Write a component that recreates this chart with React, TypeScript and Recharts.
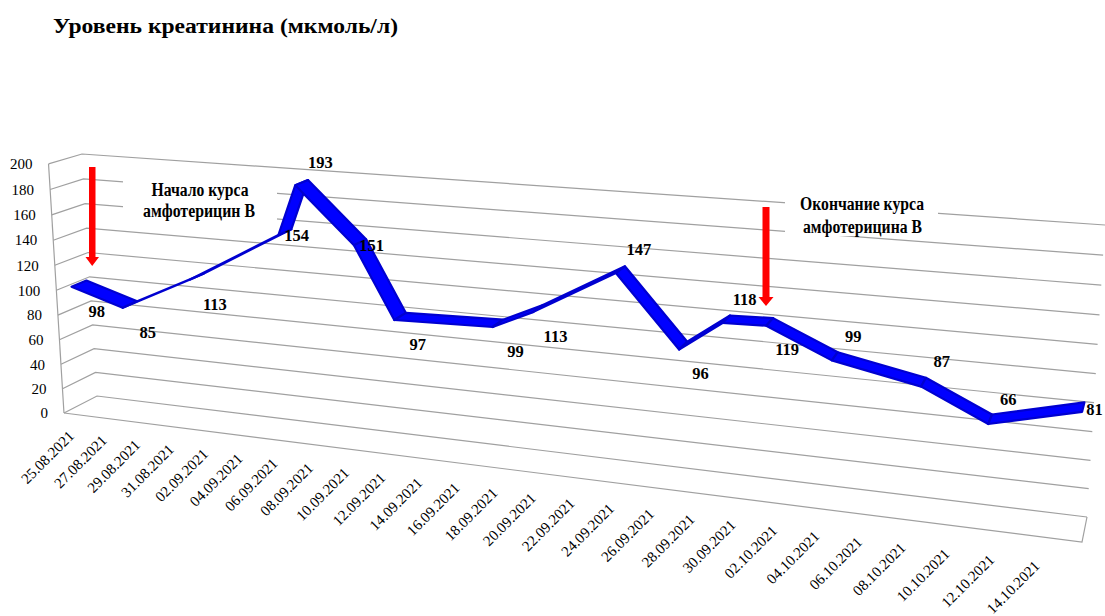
import React from "react";
import { CartesianGrid, Line, LineChart, XAxis, YAxis } from "recharts";

// dates printed under the floor (every second day)
const tickDates = [
  "25.08.2021", "27.08.2021", "29.08.2021", "31.08.2021", "02.09.2021", "04.09.2021",
  "06.09.2021", "08.09.2021", "10.09.2021", "12.09.2021", "14.09.2021", "16.09.2021",
  "18.09.2021", "20.09.2021", "22.09.2021", "24.09.2021", "26.09.2021", "28.09.2021",
  "30.09.2021", "02.10.2021", "04.10.2021", "06.10.2021", "08.10.2021", "10.10.2021",
  "12.10.2021", "14.10.2021",
];

// measurement dates and values (мкмоль/л)
const sampleDates = [
  "25.08.2021", "28.08.2021", "01.09.2021", "06.09.2021", "07.09.2021", "10.09.2021",
  "12.09.2021", "17.09.2021", "19.09.2021", "23.09.2021", "26.09.2021", "28.09.2021",
  "30.09.2021", "03.10.2021", "07.10.2021", "10.10.2021", "14.10.2021",
];
const creatinine = [98, 85, 113, 154, 193, 151, 97, 99, 113, 147, 96, 118, 119, 99, 87, 66, 81];
const labelPlacement = [
  "below", "below", "below", "right", "above", "right", "below", "below", "below",
  "above", "below", "above", "below", "above", "above", "above", "right",
];

const valueTicks = [0, 20, 40, 60, 80, 100, 120, 140, 160, 180, 200];

const FONT = "Liberation Serif";
const WIDTH = 1105;
const HEIGHT = 616;
const GRID = "#a0a0a0";

// flat plot box laid out by recharts, later mapped onto the perspective walls
const PLOT = { left: 60, right: 1060, top: 100, bottom: 500 };

const DAY = 86400000;
const parseDate = (d: string) => {
  const [dd, mm, yy] = d.split(".").map(Number);
  return Date.UTC(yy, mm - 1, dd);
};
const origin = parseDate(tickDates[0]);
const toDay = (d: string) => Math.round((parseDate(d) - origin) / DAY);
const pad = (n: number) => String(n).padStart(2, "0");
const fmtDay = (n: number) => {
  const dt = new Date(origin + n * DAY);
  return `${pad(dt.getUTCDate())}.${pad(dt.getUTCMonth() + 1)}.${dt.getUTCFullYear()}`;
};

const rows = creatinine.map((value, i) => ({ day: toDay(sampleDates[i]), value }));
const tickDays = tickDates.map(toDay);

type Pt = [number, number];

// unit square -> quad, corners (0,0) (1,0) (1,1) (0,1)
function homography(p0: Pt, p1: Pt, p2: Pt, p3: Pt) {
  const [x0, y0] = p0, [x1, y1] = p1, [x2, y2] = p2, [x3, y3] = p3;
  const dx1 = x1 - x2, dx2 = x3 - x2, dx3 = x0 - x1 + x2 - x3;
  const dy1 = y1 - y2, dy2 = y3 - y2, dy3 = y0 - y1 + y2 - y3;
  const det = dx1 * dy2 - dx2 * dy1;
  const g = (dx3 * dy2 - dx2 * dy3) / det;
  const h = (dx1 * dy3 - dx3 * dy1) / det;
  const a = x1 - x0 + g * x1, b = x3 - x0 + h * x3;
  const d = y1 - y0 + g * y1, e = y3 - y0 + h * y3;
  return (s: number, t: number): Pt => {
    const z = g * s + h * t + 1;
    return [(a * s + b * t + x0) / z, (d * s + e * t + y0) / z];
  };
}

const backWall = homography([97, 396], [1087, 517], [1105, 225], [82, 154]);
const VANISH: Pt = [1228, -186];
const depthAt = (s: number) => 0.0292 + 0.0064 * s;

function project(px: number, py: number, w = 0): Pt {
  const u = (px - PLOT.left) / (PLOT.right - PLOT.left);
  // excel's camera foreshortens a bit less than a true homography
  const s = u + 0.053 * u * u * (1 - u);
  const t = (PLOT.bottom - py) / (PLOT.bottom - PLOT.top);
  const [bx, by] = backWall(s, t);
  const k = w * depthAt(s);
  return [bx + k * (bx - VANISH[0]), by + k * (by - VANISH[1])];
}

function dateLabelAnchor(px: number): Pt {
  const s = (px - PLOT.left) / (PLOT.right - PLOT.left);
  const x = (812 * s + 75) / (1 - 0.155 * s);
  return [x, 437 + 0.1346 * (x - 75)];
}

const pts = (list: Pt[]) => list.map((p) => `${p[0].toFixed(1)},${p[1].toFixed(1)}`).join(" ");

function renderWallLine(props: any) {
  const y = props.y1;
  const front = project(PLOT.left, y, 1);
  const backLeft = project(PLOT.left, y, 0);
  const backRight = project(PLOT.right, y, 0);
  const isFloor = Math.abs(y - PLOT.bottom) < 0.5;
  const isTop = Math.abs(y - PLOT.top) < 0.5;
  const floorFront = project(PLOT.left, PLOT.bottom, 1);
  return (
    <g key={`wall-${props.index}`} fill="none" stroke={GRID} strokeWidth={1.2}>
      <polyline points={pts([front, backLeft, backRight])} />
      {isFloor && <polyline points={pts([front, project(PLOT.right, y, 1), backRight])} />}
      {isTop && <line x1={front[0]} y1={front[1]} x2={floorFront[0]} y2={floorFront[1]} />}
    </g>
  );
}

function renderValueTick(props: any) {
  const [fx, fy] = project(PLOT.left, props.y, 1);
  return (
    <text key={`yt-${props.index}`} x={fx - 16} y={fy} dy="0.35em" textAnchor="end"
      fontFamily={FONT} fontSize={15} fill="#000">
      {props.payload.value}
    </text>
  );
}

function renderDateTick(props: any) {
  const [ax, ay] = dateLabelAnchor(props.x);
  return (
    <text key={`xt-${props.index}`} x={ax} y={ay} textAnchor="end" fontFamily={FONT} fontSize={15}
      fill="#000" transform={`rotate(-45 ${ax} ${ay})`}>
      {fmtDay(props.payload.value)}
    </text>
  );
}

const W_BACK = 0.1;
const W_FRONT = 0.55;
const W_MID = 0.3;
let ribbonCache: { x: number; y: number }[] = [];

function renderRibbon(props: any) {
  const { index, cx, cy } = props;
  ribbonCache[index] = { x: cx, y: cy };
  const points = props.points ?? ribbonCache;
  if (index === 0) return <g key="rib-0" />;
  const p0 = points[index - 1];
  const p1 = points[index];
  const quad: Pt[] = [
    project(p0.x, p0.y, W_BACK),
    project(p1.x, p1.y, W_BACK),
    project(p1.x, p1.y, W_FRONT),
    project(p0.x, p0.y, W_FRONT),
  ];
  return (
    <polygon key={`rib-${index}`} points={pts(quad)} fill="#0000ff" stroke="#0000d0"
      strokeWidth={2.2} strokeLinejoin="round" />
  );
}

function renderValueLabel(props: any) {
  const x = props.x ?? props.viewBox?.x;
  const y = props.y ?? props.viewBox?.y;
  const i = props.index;
  const [px, py] = project(x, y, W_MID);
  const side = labelPlacement[i];
  const off = side === "above" ? [18, -20] : side === "below" ? [17, 28] : [11, 3];
  return (
    <text key={`lbl-${i}`} x={px + off[0]} y={py + off[1]} dy="0.35em" textAnchor="middle"
      fontFamily={FONT} fontSize={16.5} fontWeight="bold" fill="#000">
      {props.value}
    </text>
  );
}

function Annotations() {
  const text = { fontFamily: FONT, fontWeight: "bold" as const, fill: "#000" };
  return (
    <svg width={WIDTH} height={HEIGHT} style={{ position: "absolute", left: 0, top: 0, pointerEvents: "none" }}>
      <text x={53} y={33} fontSize={20.5} textLength={345} lengthAdjust="spacingAndGlyphs" {...text}>
        Уровень креатинина (мкмоль/л)
      </text>

      <rect x={123} y={170} width={154} height={55} fill="#fff" />
      <text x={200} y={196} fontSize={18} textAnchor="middle" textLength={97} lengthAdjust="spacingAndGlyphs" {...text}>
        Начало курса
      </text>
      <text x={199} y={217} fontSize={18} textAnchor="middle" textLength={112} lengthAdjust="spacingAndGlyphs" {...text}>
        амфотерицин В
      </text>
      <polygon points="89,167 95.5,167 95.5,257 99,257 92.2,266 85.5,257 89,257" fill="#ff0000" />

      <rect x={785} y={187} width={153} height={49} fill="#fff" />
      <text x={862} y={210} fontSize={18} textAnchor="middle" textLength={124} lengthAdjust="spacingAndGlyphs" {...text}>
        Окончание курса
      </text>
      <text x={862.5} y={233} fontSize={18} textAnchor="middle" textLength={119} lengthAdjust="spacingAndGlyphs" {...text}>
        амфотерицина В
      </text>
      <polygon points="762.5,207 769.5,207 769.5,297 773.5,297 766,306 758.5,297 762.5,297" fill="#ff0000" />
    </svg>
  );
}

export default function App() {
  ribbonCache = [];
  return (
    <div style={{ position: "absolute", left: 0, top: 0, width: WIDTH, height: HEIGHT, background: "#fff" }}>
      <LineChart width={WIDTH} height={HEIGHT} data={rows} margin={{ top: 100, right: 45, bottom: 0, left: 0 }}>
        <CartesianGrid vertical={false} horizontal={renderWallLine} />
        <XAxis type="number" dataKey="day" domain={[0, 50.4]} ticks={tickDays} interval={0} height={116}
          axisLine={false} tickLine={false} tick={renderDateTick} />
        <YAxis type="number" domain={[0, 200]} ticks={valueTicks} interval={0} width={60}
          axisLine={false} tickLine={false} tick={renderValueTick} />
        <Line dataKey="value" stroke="none" isAnimationActive={false} dot={renderRibbon}
          activeDot={false} label={renderValueLabel} />
      </LineChart>
      <Annotations />
    </div>
  );
}
